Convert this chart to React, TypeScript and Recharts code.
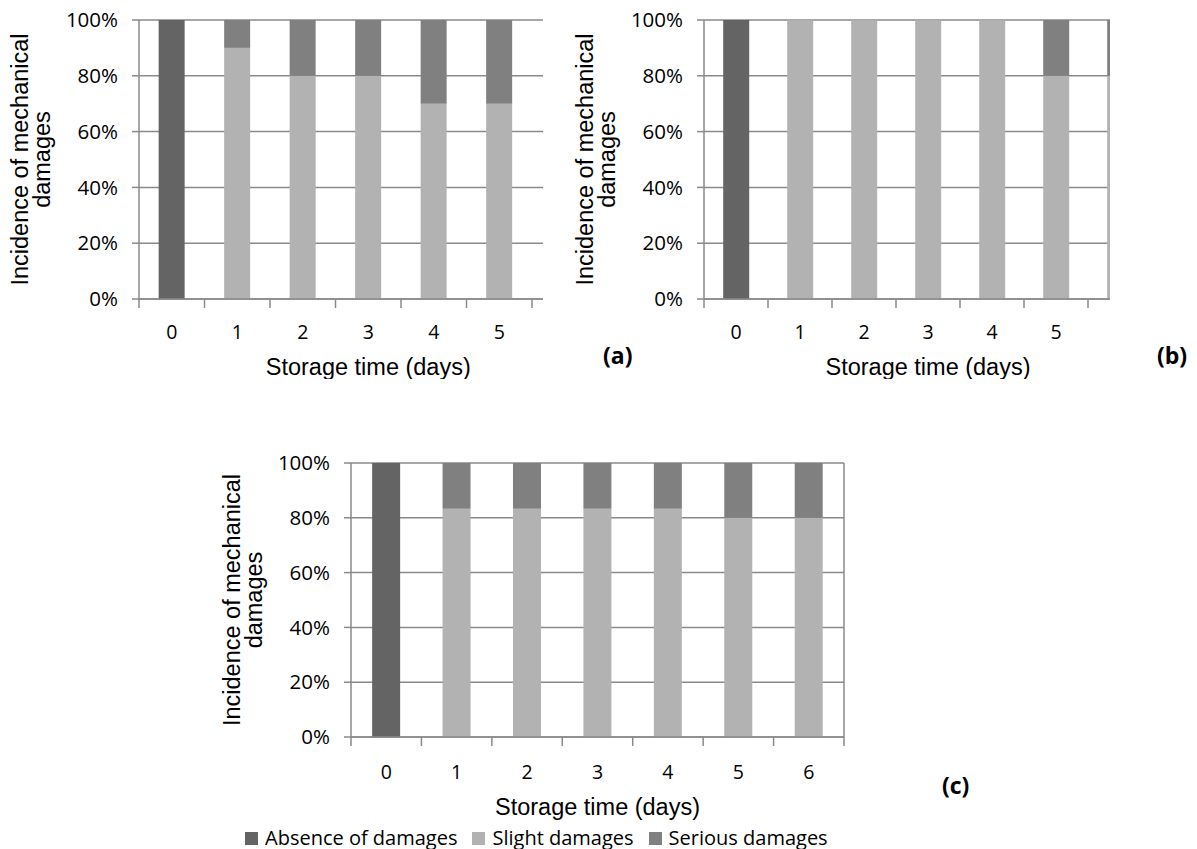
import React from 'react';
import { BarChart, Bar, XAxis, YAxis, CartesianGrid, Legend } from 'recharts';

// panel (a) – the 7th day falls outside the cropped plot in the source figure
const daysA = ['0', '1', '2', '3', '4', '5', '6'];
const absenceA = [100, 0, 0, 0, 0, 0, null];
const slightA = [0, 90, 80, 80, 70, 70, null];
const seriousA = [0, 10, 20, 20, 30, 30, null];

// panel (b) – day 6 is only partly visible
const daysB = ['0', '1', '2', '3', '4', '5', '6'];
const absenceB = [100, 0, 0, 0, 0, 0, 0];
const slightB = [0, 100, 100, 100, 100, 80, 80];
const seriousB = [0, 0, 0, 0, 0, 20, 20];

// panel (c)
const daysC = ['0', '1', '2', '3', '4', '5', '6'];
const absenceC = [100, 0, 0, 0, 0, 0, 0];
const slightC = [0, 83.3, 83.3, 83.3, 83.3, 80, 80];
const seriousC = [0, 16.7, 16.7, 16.7, 16.7, 20, 20];

const yTicks = [0, 20, 40, 60, 80, 100];
const seriesNames = ['Absence of damages', 'Slight damages', 'Serious damages'];
const seriesColors = ['#646464', '#b2b2b2', '#808080'];

const AXIS = '#8a8a8a';
const TICK_LEN = 9;

const toRows = (days: string[], a: any[], s: any[], se: any[]) =>
  days.map((d, i) => ({ day: d, absence: a[i], slight: s[i], serious: se[i] }));

const rowsA = toRows(daysA, absenceA, slightA, seriousA);
const rowsB = toRows(daysB, absenceB, slightB, seriousB);
const rowsC = toRows(daysC, absenceC, slightC, seriousC);

// tick marks sit on the category boundaries, labels in the middle
const DayTick = (props: any) => {
  const { x, y, payload, index, visibleTicksCount, width, gap, shown } = props;
  const band = width / visibleTicksCount;
  const top = y - gap - TICK_LEN;
  const marks = [x - band / 2];
  if (index === visibleTicksCount - 1) marks.push(x + band / 2);
  return (
    <g>
      {marks.map((mx, i) => (
        <line key={i} x1={mx} x2={mx} y1={top} y2={top + TICK_LEN} stroke={AXIS} strokeWidth={1.5} />
      ))}
      {index < shown && (
        <text x={x} y={y} dy="0.71em" textAnchor="middle" fill="#000" fontSize={19.5} fontFamily="Open Sans">
          {payload.value}
        </text>
      )}
    </g>
  );
};

const YTitle = (props: any) => {
  const { x, y, height } = props.viewBox;
  const cy = y + height / 2;
  const lines = [
    { text: 'Incidence of mechanical', bx: x + 28 },
    { text: 'damages', bx: x + 50 },
  ];
  return (
    <g>
      {lines.map((l) => (
        <text
          key={l.text}
          x={l.bx}
          y={cy}
          transform={`rotate(-90, ${l.bx}, ${cy})`}
          textAnchor="middle"
          fill="#000"
          fontSize={23.5}
          fontFamily="Liberation Sans, Arial"
        >
          {l.text}
        </text>
      ))}
    </g>
  );
};

const LegendRow = (props: any) => {
  const items = [...(props.payload || [])].sort(
    (p: any, q: any) => seriesNames.indexOf(p.value) - seriesNames.indexOf(q.value)
  );
  return (
    <div style={{ display: 'flex', whiteSpace: 'nowrap', fontFamily: 'Open Sans', fontSize: 20, lineHeight: '26px', color: '#000' }}>
      {items.map((p: any) => (
        <div key={p.value} style={{ display: 'flex', alignItems: 'center', marginRight: 15 }}>
          <span style={{ width: 13, height: 13, background: p.color, marginRight: 7, display: 'inline-block' }} />
          <span>{p.value}</span>
        </div>
      ))}
    </div>
  );
};

interface PanelProps {
  rows: any[];
  width: number;
  height: number;
  marginRight: number;
  axisHeight: number;
  tickGap: number;
  titleGap: number;
  shownLabels: number;
  rightBorder?: boolean;
  legend?: boolean;
}

const DamagePanel: React.FC<PanelProps> = ({
  rows, width, height, marginRight, axisHeight, tickGap, titleGap, shownLabels, rightBorder, legend,
}) => (
  <BarChart
    width={width}
    height={height}
    data={rows}
    margin={{ top: 20, right: marginRight, left: 0, bottom: 0 }}
    barCategoryGap="30%"
  >
    <CartesianGrid
      stroke={AXIS}
      strokeWidth={1.5}
      vertical={!!rightBorder}
      verticalCoordinatesGenerator={rightBorder ? ({ offset }: any) => [offset.left + offset.width] : undefined}
    />
    <XAxis
      dataKey="day"
      height={axisHeight}
      interval={0}
      tickLine={false}
      tickSize={TICK_LEN}
      tickMargin={tickGap}
      axisLine={{ stroke: AXIS, strokeWidth: 1.5 }}
      tick={(p: any) => <DayTick {...p} gap={tickGap} shown={shownLabels} />}
      label={{
        value: 'Storage time (days)',
        position: 'insideTop',
        offset: titleGap,
        fill: '#000',
        fontSize: 23.5,
        fontFamily: 'Liberation Sans, Arial',
      }}
    />
    <YAxis
      width={139}
      domain={[0, 100]}
      ticks={yTicks}
      interval={0}
      tickSize={7}
      tickMargin={14}
      tickFormatter={(v) => `${v}%`}
      tick={{ fill: '#000', fontSize: 20.5, fontFamily: 'Open Sans' }}
      tickLine={{ stroke: AXIS, strokeWidth: 1.5 }}
      axisLine={{ stroke: AXIS, strokeWidth: 1.5 }}
      label={{ content: YTitle }}
    />
    {legend && (
      <Legend
        layout="horizontal"
        verticalAlign="middle"
        align="center"
        content={LegendRow}
        wrapperStyle={{ left: 33, top: 382, width: 'auto', height: 'auto' }}
      />
    )}
    <Bar dataKey="absence" name={seriesNames[0]} stackId="s" fill={seriesColors[0]} isAnimationActive={false} />
    <Bar dataKey="slight" name={seriesNames[1]} stackId="s" fill={seriesColors[1]} isAnimationActive={false} />
    <Bar dataKey="serious" name={seriesNames[2]} stackId="s" fill={seriesColors[2]} isAnimationActive={false} />
  </BarChart>
);

const tag: React.CSSProperties = {
  position: 'absolute',
  fontFamily: 'Open Sans',
  fontWeight: 700,
  fontSize: 23,
  lineHeight: '24px',
  color: '#000',
};

export default function App() {
  return (
    <div style={{ position: 'absolute', left: 0, top: 0, width: 1197, height: 849, background: '#fff' }}>
      <div style={{ position: 'absolute', left: 0, top: 0, width: 543, height: 379, overflow: 'hidden' }}>
        <DamagePanel rows={rowsA} width={600} height={379} marginRight={2.5} axisHeight={80} tickGap={17} titleGap={59} shownLabels={6} />
      </div>
      <div style={{ position: 'absolute', left: 565, top: 0, width: 545, height: 379, overflow: 'hidden' }}>
        <DamagePanel rows={rowsB} width={590} height={379} marginRight={3} axisHeight={80} tickGap={17} titleGap={59} shownLabels={6} />
      </div>
      <div style={{ position: 'absolute', left: 212, top: 443, width: 640, height: 430 }}>
        <DamagePanel
          rows={rowsC}
          width={636}
          height={406}
          marginRight={4}
          axisHeight={112}
          tickGap={19}
          titleGap={61}
          shownLabels={7}
          rightBorder
          legend
        />
      </div>
      <span style={{ ...tag, left: 603, top: 343 }}>(a)</span>
      <span style={{ ...tag, left: 1157, top: 343 }}>(b)</span>
      <span style={{ ...tag, left: 942, top: 773 }}>(c)</span>
    </div>
  );
}
